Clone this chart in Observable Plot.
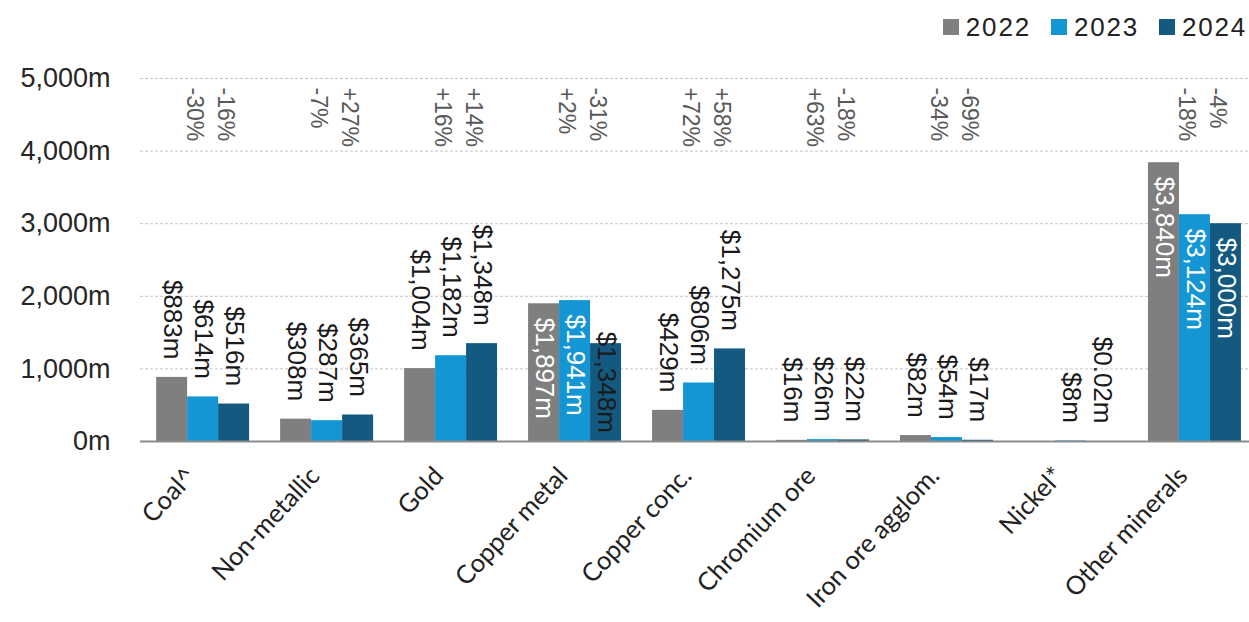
<!DOCTYPE html>
<html>
<head>
<meta charset="utf-8">
<script src="https://cdn.jsdelivr.net/npm/d3@7"></script>
<script src="https://cdn.jsdelivr.net/npm/@observablehq/plot@0.6"></script>
<style>
  html, body { margin: 0; padding: 0; background: #fff; }
  #wrap { width: 1249px; height: 622px; overflow: hidden; }
  #legend { height: 50px; display: flex; justify-content: flex-end; align-items: center;
    font-family: "Liberation Sans", Arial, sans-serif; font-size: 26px; letter-spacing: 1.8px;
    color: #222; padding-right: 2px; box-sizing: border-box; padding-top: 4px; }
  .item { display: flex; align-items: center; margin-left: 20px; }
  .sw { width: 16px; height: 16px; margin-right: 7px; }
</style>
</head>
<body>
<div id="wrap">
  <div id="legend"></div>
  <div id="chart"></div>
</div>
<script>
const categories = ["Coal^", "Non-metallic", "Gold", "Copper metal", "Copper conc.", "Chromium ore", "Iron ore agglom.", "Nickel*", "Other minerals"];
const years = ["2022", "2023", "2024"];
const values2022 = [883, 308, 1004, 1897, 429, 16, 82, null, 3840];
const values2023 = [614, 287, 1182, 1941, 806, 26, 54, 8, 3124];
const values2024 = [516, 365, 1348, 1348, 1275, 22, 17, 0.02, 3000];
const change2023 = ["-30%", "-7%", "+16%", "+2%", "+72%", "+63%", "-34%", null, "-18%"];
const change2024 = ["-16%", "+27%", "+14%", "-31%", "+58%", "-18%", "-69%", null, "-4%"];
const yTicks = [0, 1000, 2000, 3000, 4000, 5000];
const colors = ["#7f7f7f", "#1596d4", "#145a80"];

// legend
const legend = document.getElementById("legend");
years.forEach((y, i) => {
  const it = document.createElement("div");
  it.className = "item";
  const sw = document.createElement("div");
  sw.className = "sw";
  sw.style.background = colors[i];
  const t = document.createElement("span");
  t.textContent = y;
  it.appendChild(sw); it.appendChild(t);
  legend.appendChild(it);
});

// slot domain: each category has 3 year slots, with a spacer slot between groups
const key = (c, y) => c + "|" + y;
const domain = [];
categories.forEach((c, i) => {
  if (i > 0) domain.push(key(c, "gap"));
  years.forEach(y => domain.push(key(c, y)));
});

const valuesByYear = [values2022, values2023, values2024];
const rows = [];
categories.forEach((c, i) => {
  years.forEach((y, j) => {
    rows.push({
      category: c, year: y, key: key(c, y),
      value: valuesByYear[j][i],
      change: j === 1 ? change2023[i] : j === 2 ? change2024[i] : null
    });
  });
});
const fmt = v => "$" + d3.format(",")(v) + "m";
const threshold = 1800;
const insideCats = new Set(rows.filter(r => r.value >= threshold).map(r => r.category));
const valued = rows.filter(r => r.value != null);
const outside = valued.filter(r => !insideCats.has(r.category));
const inside = valued.filter(r => r.value >= threshold);
const straddle = valued.filter(r => insideCats.has(r.category) && r.value < threshold);
const midKeys = categories.map(c => key(c, "2023"));

const labelFont = { fontFamily: "Liberation Sans, Arial, sans-serif", fontSize: 26, letterSpacing: "1.5px" };

const chart = Plot.plot({
  width: 1249,
  height: 572,
  marginTop: 28,
  marginBottom: 181,
  marginLeft: 140,
  marginRight: 0,
  style: { fontFamily: "Liberation Sans, Arial, sans-serif", background: "#fff" },
  x: { domain, type: "band", paddingInner: 0, paddingOuter: 0.39, align: 0.667 },
  y: { domain: [0, 5000] },
  color: { domain: years, range: colors },
  marks: [
    Plot.gridY(yTicks.filter(d => d > 0), { stroke: "#c4c4c4", strokeOpacity: 1, strokeDasharray: "3,2" }),
    Plot.barY(valued, { x: "key", y: "value", fill: "year" }),
    Plot.ruleY([0], { stroke: "#8c8c8c", strokeWidth: 2 }),
    Plot.axisY({ ticks: yTicks, tickFormat: d => d3.format(",")(d) + "m", tickSize: 0, tickPadding: 30,
      fontSize: 27, letterSpacing: "1.6px", fill: "#262626", label: null }),
    Plot.axisX({ ticks: midKeys, tickFormat: k => k.split("|")[0], tickRotate: -47, tickSize: 0, tickPadding: 0,
      dy: 30, dx: -12, textAnchor: "end", fontFamily: "Lato, sans-serif", fontSize: 25.5, fill: "#222", label: null }),
    Plot.text(outside, { x: "key", y: "value", text: d => fmt(d.value), rotate: 90, textAnchor: "end", dy: -18,
      fill: "#1a1a1a", ...labelFont }),
    Plot.text(inside, { x: "key", y: "value", text: d => fmt(d.value), rotate: 90, textAnchor: "start", dy: 14,
      fill: "#ffffff", ...labelFont }),
    Plot.text(straddle, { x: "key", y: "value", text: d => fmt(d.value), rotate: 90, textAnchor: "start", dy: -12,
      fill: "#1a1a1a", ...labelFont }),
    Plot.text(rows.filter(r => r.change), { x: "key", frameAnchor: "top", text: "change", rotate: 90, textAnchor: "start",
      dy: 9, fill: "#595959", fontFamily: "Liberation Sans, Arial, sans-serif", fontSize: 23, letterSpacing: "1.5px" })
  ]
});
document.getElementById("chart").appendChild(chart);
</script>
</body>
</html>
